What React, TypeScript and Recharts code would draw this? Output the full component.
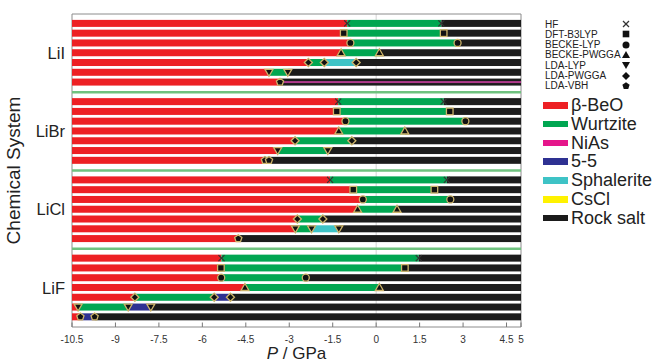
import {
  Bar,
  BarChart,
  Label,
  ReferenceArea,
  ReferenceLine,
  XAxis,
  YAxis,
} from "recharts";

// pressure range of the plot (GPa)
const P_MIN = -10.5;
const P_MAX = 5;
const X_TICKS = [-10.5, -9, -7.5, -6, -4.5, -3, -1.5, 0, 1.5, 3, 4.5, 5];

const SYSTEMS = ["LiI", "LiBr", "LiCl", "LiF"];

// row order inside each system block (top to bottom)
const ROW_METHODS = [
  "HF",
  "DFT-B3LYP",
  "BECKE-LYP",
  "BECKE-PWGGA",
  "LDA-PWGGA",
  "LDA-LYP",
  "LDA-VBH",
];

const LEGEND_METHODS = [
  "HF",
  "DFT-B3LYP",
  "BECKE-LYP",
  "BECKE-PWGGA",
  "LDA-LYP",
  "LDA-PWGGA",
  "LDA-VBH",
];

// B = beta-BeO, W = wurtzite, N = NiAs, F = 5-5, S = sphalerite, C = CsCl, R = rock salt
// NR = NiAs / rock salt degenerate
const LII_PHASES = [
  ["B", "W", "R"],
  ["B", "W", "R"],
  ["B", "W", "R"],
  ["B", "W", "R"],
  ["B", "W", "S", "R"],
  ["B", "W", "R"],
  ["B", "NR"],
];
const LII_TRANSITIONS = [
  [-1.0, 2.25],
  [-1.12, 2.33],
  [-0.89, 2.81],
  [-1.21, 0.11],
  [-2.34, -1.79, -0.69],
  [-3.7, -3.05],
  [-3.32],
];

const LIBR_PHASES = [
  ["B", "W", "R"],
  ["B", "W", "R"],
  ["B", "W", "R"],
  ["B", "W", "R"],
  ["B", "W", "R"],
  ["B", "W", "R"],
  ["B", "W", "R"],
];
const LIBR_TRANSITIONS = [
  [-1.31, 2.33],
  [-1.36, 2.54],
  [-1.06, 3.08],
  [-1.29, 0.99],
  [-2.8, -0.84],
  [-3.4, -1.67],
  [-3.84, -3.7],
];

const LICL_PHASES = [
  ["B", "W", "R"],
  ["B", "W", "R"],
  ["B", "W", "R"],
  ["B", "W", "R"],
  ["B", "W", "R"],
  ["B", "W", "S", "R"],
  ["B", "R"],
];
const LICL_TRANSITIONS = [
  [-1.59, 2.44],
  [-0.79, 2.01],
  [-0.46, 2.56],
  [-0.64, 0.72],
  [-2.72, -1.84],
  [-2.79, -2.23, -1.29],
  [-4.76],
];

const LIF_PHASES = [
  ["B", "W", "R"],
  ["B", "W", "R"],
  ["B", "W", "R"],
  ["B", "W", "R"],
  ["B", "W", "F", "R"],
  ["B", "W", "F", "R"],
  ["B", "F", "R"],
];
const LIF_TRANSITIONS = [
  [-5.34, 1.47],
  [-5.36, 0.99],
  [-5.35, -2.43],
  [-4.53, 0.11],
  [-8.33, -5.59, -5.03],
  [-10.29, -8.56, -7.78],
  [-10.21, -9.72],
];

const ALL_PHASES = [LII_PHASES, LIBR_PHASES, LICL_PHASES, LIF_PHASES];
const ALL_TRANSITIONS = [
  LII_TRANSITIONS,
  LIBR_TRANSITIONS,
  LICL_TRANSITIONS,
  LIF_TRANSITIONS,
];

const PHASE_COLORS: Record<string, string> = {
  B: "#ed2024",
  W: "#00a651",
  N: "#e5168b",
  F: "#2e3192",
  S: "#3ec3c6",
  C: "#fff200",
  R: "#1b1b1b",
};

const PHASE_LEGEND = [
  ["B", "\u03b2-BeO"],
  ["W", "Wurtzite"],
  ["N", "NiAs"],
  ["F", "5-5"],
  ["S", "Sphalerite"],
  ["C", "CsCl"],
  ["R", "Rock salt"],
];

const MAX_SEGS = 4;
const ROWS_PER_BLOCK = 8;
const SEPARATORS = [8, 16, 24];
const GROUP_TICKS = [4, 12, 20, 28];

const rows: any[] = [];
SYSTEMS.forEach((system, g) => {
  ALL_PHASES[g].forEach((seq, m) => {
    const bounds = [P_MIN, ...ALL_TRANSITIONS[g][m], P_MAX];
    const row: any = {
      k: g * ROWS_PER_BLOCK + m + 1,
      system,
      method: ROW_METHODS[m],
    };
    seq.forEach((phase, i) => {
      row[`s${i}`] = [bounds[i], bounds[i + 1]];
      row[`p${i}`] = phase;
    });
    rows.push(row);
  });
});

const RING = "#cdb46a";

function Marker({ cx, cy, method, plain = false }: any) {
  const fill = "#111";
  const stroke = plain ? "none" : RING;
  const sw = plain ? 0 : 1.3;
  switch (method) {
    case "HF":
      return (
        <g stroke="#333" strokeWidth={1.2}>
          <line x1={cx - 3} y1={cy - 3} x2={cx + 3} y2={cy + 3} />
          <line x1={cx - 3} y1={cy + 3} x2={cx + 3} y2={cy - 3} />
        </g>
      );
    case "DFT-B3LYP":
      return (
        <rect
          x={cx - 3.3}
          y={cy - 3.3}
          width={6.6}
          height={6.6}
          fill={fill}
          stroke={stroke}
          strokeWidth={sw}
        />
      );
    case "BECKE-LYP":
      return <circle cx={cx} cy={cy} r={3.5} fill={fill} stroke={stroke} strokeWidth={sw} />;
    case "BECKE-PWGGA":
      return (
        <polygon
          points={`${cx},${cy - 4} ${cx + 4},${cy + 3} ${cx - 4},${cy + 3}`}
          fill={fill}
          stroke={stroke}
          strokeWidth={sw}
        />
      );
    case "LDA-LYP":
      return (
        <polygon
          points={`${cx - 4},${cy - 3} ${cx + 4},${cy - 3} ${cx},${cy + 4}`}
          fill={fill}
          stroke={stroke}
          strokeWidth={sw}
        />
      );
    case "LDA-PWGGA":
      return (
        <polygon
          points={`${cx},${cy - 4} ${cx + 4},${cy} ${cx},${cy + 4} ${cx - 4},${cy}`}
          fill={fill}
          stroke={stroke}
          strokeWidth={sw}
        />
      );
    default: {
      const pts = [0, 1, 2, 3, 4]
        .map((j) => {
          const a = -Math.PI / 2 + (j * 2 * Math.PI) / 5;
          return `${cx + 3.8 * Math.cos(a)},${cy + 3.8 * Math.sin(a)}`;
        })
        .join(" ");
      return <polygon points={pts} fill={fill} stroke={stroke} strokeWidth={sw} />;
    }
  }
}

function segmentShape(i: number) {
  return (props: any) => {
    const row = props.payload ?? props;
    const phase = row[`p${i}`];
    const { x, y, width, height } = props;
    if (!phase || !Number.isFinite(x) || !Number.isFinite(width)) return <g />;
    const x0 = Math.min(x, x + width);
    const w = Math.abs(width);
    if (phase === "NR") {
      return (
        <g>
          <rect x={x0} y={y} width={w} height={height} fill={PHASE_COLORS.R} />
          <rect x={x0} y={y + height / 2 - 1} width={w} height={2} fill="#b03a8c" />
        </g>
      );
    }
    return <rect x={x0} y={y} width={w} height={height} fill={PHASE_COLORS[phase]} />;
  };
}

function markerShape(i: number) {
  return (props: any) => {
    const row = props.payload ?? props;
    const phase = row[`p${i}`];
    const { x, y, width, height } = props;
    if (!phase || !Number.isFinite(x) || !Number.isFinite(width)) return <g />;
    const x0 = Math.min(x, x + width);
    return <Marker cx={x0} cy={y + height / 2} method={row.method} />;
  };
}

function BottomTick({ x, y, payload }: any) {
  return (
    <g>
      <line x1={x} y1={y} x2={x} y2={y - 4.5} stroke="#777" />
      <text x={x} y={y + 16} textAnchor="middle" fontSize={10} fill="#333">
        {String(payload.value)}
      </text>
    </g>
  );
}

function TopTick({ x, y }: any) {
  return <line x1={x} y1={y} x2={x} y2={y + 4.5} stroke="#777" />;
}

export default function App() {
  return (
    <div
      style={{
        position: "absolute",
        left: 0,
        top: 0,
        width: 656,
        height: 361,
        background: "#ffffff",
        fontFamily: "'Liberation Sans', Arial, sans-serif",
        overflow: "hidden",
      }}
    >
      <BarChart
        width={656}
        height={361}
        data={rows}
        layout="vertical"
        margin={{ top: 14, right: 135, bottom: 0, left: 0 }}
        barSize={7}
        barGap={-7}
        style={{ fontFamily: "'Liberation Sans', Arial, sans-serif" }}
      >
        <XAxis
          type="number"
          domain={[P_MIN, P_MAX]}
          ticks={X_TICKS}
          interval={0}
          height={34}
          tickSize={0}
          tickMargin={0}
          tickLine={false}
          axisLine={false}
          tick={<BottomTick />}
          allowDataOverflow
        >
          <Label
            content={(p: any) => {
              const vb = p.viewBox || { x: 72, y: 327, width: 449, height: 34 };
              return (
                <text
                  x={vb.x + vb.width / 2}
                  y={vb.y + vb.height - 2.5}
                  textAnchor="middle"
                  fontSize={17}
                  fill="#222"
                >
                  <tspan fontStyle="italic">P</tspan> / GPa
                </text>
              );
            }}
          />
        </XAxis>
        <XAxis
          xAxisId="top"
          orientation="top"
          type="number"
          domain={[P_MIN, P_MAX]}
          ticks={X_TICKS}
          interval={0}
          height={0}
          tickSize={0}
          tickMargin={0}
          tickLine={false}
          axisLine={false}
          tick={<TopTick />}
          allowDataOverflow
        />
        <YAxis
          type="number"
          dataKey="k"
          domain={[0, 32]}
          ticks={GROUP_TICKS}
          interval={0}
          width={72}
          tickSize={0}
          tickMargin={7}
          tickLine={false}
          axisLine={false}
          tickFormatter={(v: number) => SYSTEMS[(v - 4) / ROWS_PER_BLOCK]}
          tick={{ fontSize: 16.5, fill: "#222" }}
          allowDataOverflow
        >
          <Label
            content={(p: any) => {
              const vb = p.viewBox || { x: 0, y: 14, width: 72, height: 313 };
              const cy = vb.y + vb.height / 2;
              return (
                <text
                  x={20}
                  y={cy}
                  transform={`rotate(-90 20 ${cy})`}
                  textAnchor="middle"
                  fontSize={19}
                  fill="#222"
                >
                  Chemical System
                </text>
              );
            }}
          />
        </YAxis>
        <ReferenceLine x={0} stroke="#d4d4d4" strokeWidth={1} zIndex={0} />
        {Array.from({ length: MAX_SEGS }, (_, i) => (
          <Bar
            key={`seg-${i}`}
            dataKey={`s${i}`}
            isAnimationActive={false}
            shape={segmentShape(i)}
          />
        ))}
        {Array.from({ length: MAX_SEGS - 1 }, (_, j) => (
          <Bar
            key={`mk-${j + 1}`}
            dataKey={`s${j + 1}`}
            isAnimationActive={false}
            shape={markerShape(j + 1)}
          />
        ))}
        {SEPARATORS.map((s) => (
          <ReferenceLine key={s} y={s} stroke="#6fc27f" strokeWidth={2.5} />
        ))}
        <ReferenceArea
          x1={P_MIN}
          x2={P_MAX}
          y1={0}
          y2={32}
          fill="none"
          fillOpacity={0}
          stroke="#8c8c8c"
          strokeWidth={1}
          ifOverflow="visible"
        />
      </BarChart>

      {/* method legend */}
      {LEGEND_METHODS.map((m, i) => (
        <div
          key={m}
          style={{
            position: "absolute",
            left: 545,
            top: 18.5 + i * 10.3,
            width: 110,
            height: 11,
            fontSize: 10,
            lineHeight: "11px",
            color: "#222",
          }}
        >
          {m}
          <svg
            width={10}
            height={10}
            style={{ position: "absolute", left: 76, top: 0.5 }}
          >
            <Marker cx={5} cy={5} method={m} plain />
          </svg>
        </div>
      ))}

      {/* phase legend */}
      {PHASE_LEGEND.map(([key, name], i) => (
        <div
          key={key}
          style={{
            position: "absolute",
            left: 543,
            top: 94 + i * 18.8,
            height: 22,
            width: 113,
            fontSize: 18,
            lineHeight: "22px",
            color: "#222",
            whiteSpace: "nowrap",
          }}
        >
          <span
            style={{
              position: "absolute",
              left: 0,
              top: 8,
              width: 25,
              height: 6.5,
              background: PHASE_COLORS[key],
            }}
          />
          <span style={{ position: "absolute", left: 28, top: 0 }}>{name}</span>
        </div>
      ))}
    </div>
  );
}
